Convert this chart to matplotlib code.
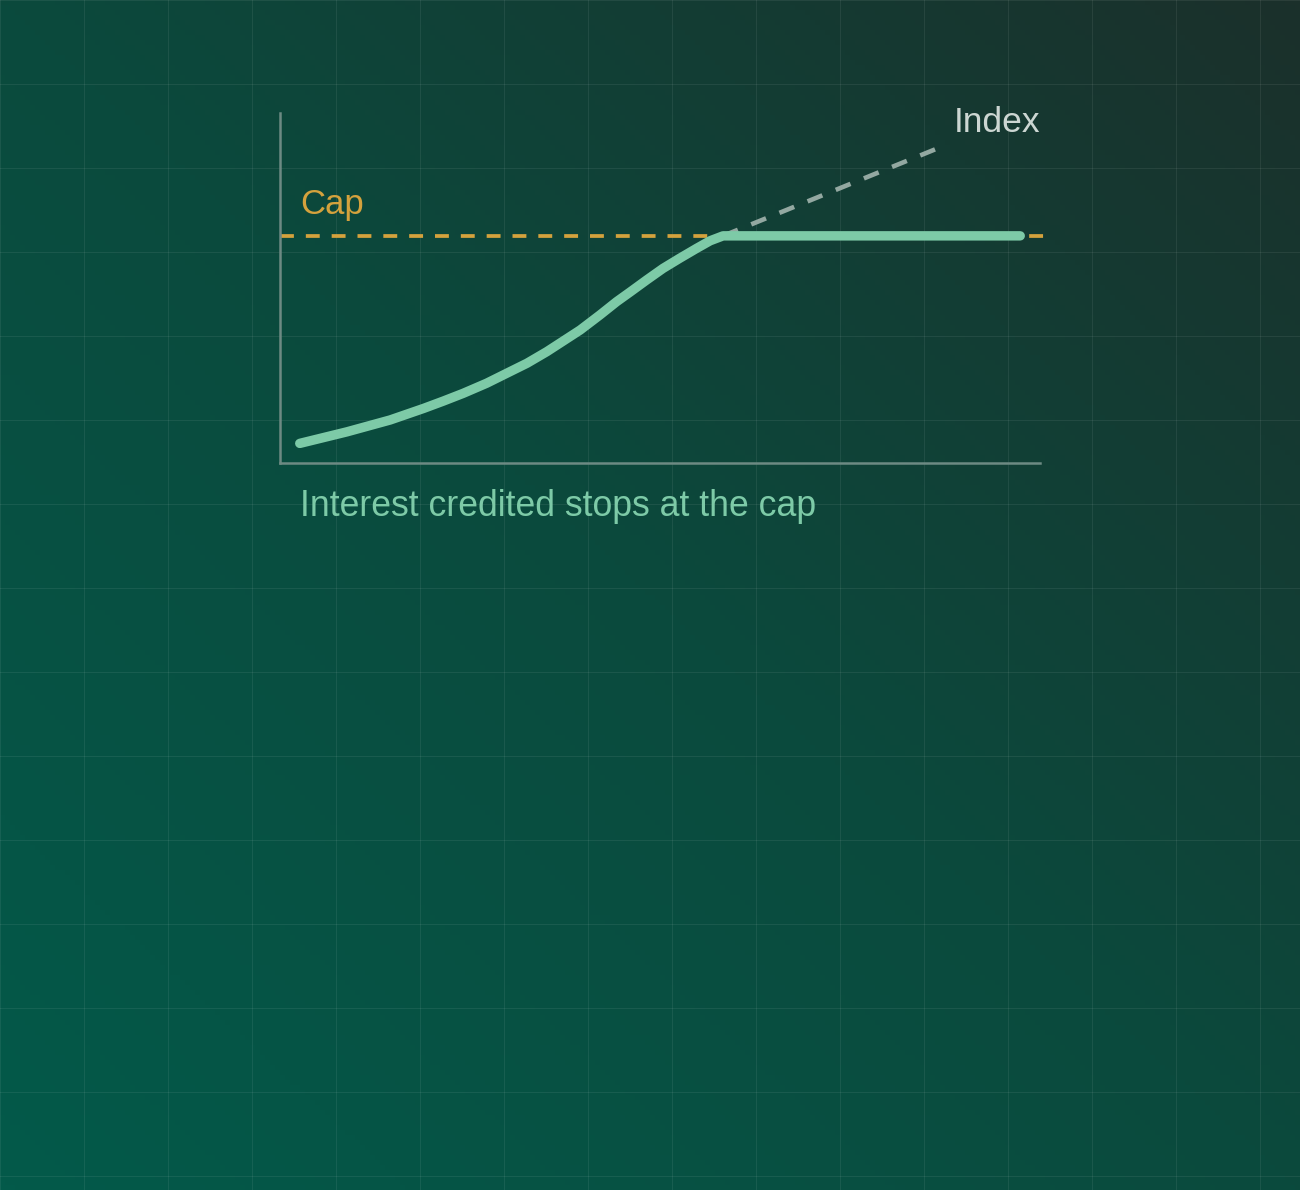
import numpy as np
import matplotlib.pyplot as plt
from matplotlib.colors import LinearSegmentedColormap

plt.rcParams['font.family'] = ['Liberation Sans', 'DejaVu Sans']
plt.rcParams['lines.scale_dashes'] = False

# 数据 (x: 时间 0-100, y: 收益 0-100)
credited_x = [2.6, 8.8, 14.5, 18.9, 21.5, 24.1, 27.2, 29.8, 32.5, 35.1, 37.3, 39.5, 42.1,
              44.3, 46.1, 48.25, 50.4, 52.6, 54.8, 56.6, 58.3, 97.4]
credited_y = [5.6, 8.9, 12.3, 15.6, 17.7, 19.9, 22.8, 25.6, 28.5, 31.8, 34.9, 38.0, 42.3,
              46.1, 48.9, 52.3, 55.6, 58.5, 61.3, 63.5, 64.9, 64.9]
index_x = [58.3, 86.3]
index_y = [64.9, 89.7]
cap_value = 64.9
cap_x = [0, 101]

W, H = 1300, 1190
fig = plt.figure(figsize=(W / 100, H / 100), dpi=100)

# 背景渐变 + 网格
bg = fig.add_axes([0, 0, 1, 1])
xx, yy = np.meshgrid(np.linspace(0, 1, 260), np.linspace(0, 1, 238))
t = (xx + (1 - yy)) / 2
cmap = LinearSegmentedColormap.from_list('bg', [(0, '#035a4a'), (0.5, '#0b4a3d'), (1, '#1b302b')])
bg.imshow(t, cmap=cmap, extent=[0, W, H, 0], aspect='auto', zorder=0)
bg.set_xlim(0, W)
bg.set_ylim(H, 0)
bg.set_xticks(np.arange(0, W, 84))
bg.set_yticks(np.arange(0, H, 84))
bg.grid(color='white', alpha=0.07, lw=0.8)
bg.tick_params(length=0, labelbottom=False, labelleft=False)
for s in bg.spines.values():
    s.set_visible(False)

# 图表
ax = fig.add_axes([280 / W, 1 - 463 / H, 760 / W, 350 / H])
ax.patch.set_visible(False)
ax.set_xlim(0, 100)
ax.set_ylim(0, 100)
ax.set_xticks([])
ax.set_yticks([])
ax.spines['top'].set_visible(False)
ax.spines['right'].set_visible(False)
for s in ['left', 'bottom']:
    ax.spines[s].set_color('#6d8a83')
    ax.spines[s].set_linewidth(1.8)

ax.plot(cap_x, [cap_value] * 2, color='#d4a23d', lw=2.7, dashes=(10, 8.6), clip_on=False, zorder=2)
ax.plot(index_x, index_y, color='#93a8a1', lw=3.3, dashes=(11.5, 10.4), zorder=2)
ax.plot(credited_x, credited_y, color='#7dcaa7', lw=6.8, solid_capstyle='round',
        solid_joinstyle='round', zorder=4)

ax.text(2.6, 71.1, 'Cap', color='#d4a23d', fontsize=25, va='baseline')
ax.text(100, 94.5, 'Index', color='#ccd6d2', fontsize=25.5, ha='right', va='baseline')
ax.text(2.6, -15.1, 'Interest credited stops at the cap', color='#7dcaa7', fontsize=25.7,
        va='baseline')

fig.savefig('out.png', dpi=100)
